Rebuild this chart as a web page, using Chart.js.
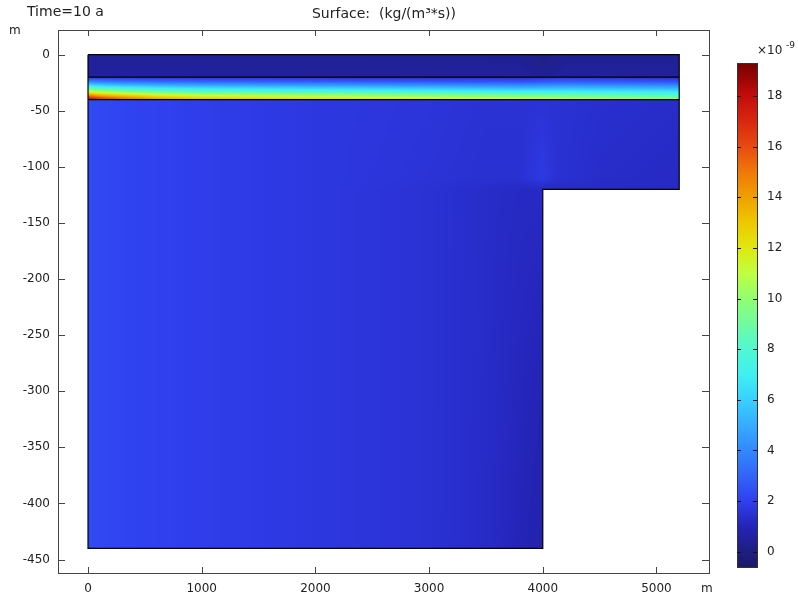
<!DOCTYPE html>
<html lang="en">
<head>
    <meta charset="UTF-8">
    <title>Surface: (kg/(m3*s))</title>
    <script src="https://cdn.jsdelivr.net/npm/chart.js"></script>
    <style>
        body { margin: 0; background: #fff; }
        .wrap { position: relative; width: 798px; height: 598px; }
        #mainChart { position: absolute; left: 0; top: 0; }
        #barChart { position: absolute; left: 720px; top: 0; }
    </style>
</head>
<body>
<div class="wrap">
    <canvas id="mainChart" width="798" height="598"></canvas>
    <canvas id="barChart" width="78" height="598"></canvas>
</div>

<script>
// ---- data (values in 1e-9 kg/(m^3*s)) ----
const xTicks = [0, 1000, 2000, 3000, 4000, 5000];
const yTicks = [-450, -400, -350, -300, -250, -200, -150, -100, -50, 0];
const colorTicks = [0, 2, 4, 6, 8, 10, 12, 14, 16, 18];

// domain geometry (m)
const outline = [[0, 0], [5200, 0], [5200, -120], [4000, -120], [4000, -440], [0, -440], [0, 0]];
const line20 = [[0, -20], [5200, -20]];
const line40 = [[0, -40], [5200, -40]];

// top layer 0..-20
const topX = [0, 2000, 3800, 4000, 4200, 5200];
const topY = [0, -20];
const topV = [
    [0.4, 0.4, 0.35, 0.15, 0.35, 0.35],
    [0.6, 0.5, 0.5, 0.35, 0.5, 0.5]
];

// source band -20..-40
const bandX = [0, 100, 300, 600, 1000, 2000, 3000, 3800, 4200, 5200];
const bandY = [-20, -24, -28, -32, -36, -40];
const bandV = [
    [1.6, 1.6, 1.5, 1.5, 1.4, 1.4, 1.3, 1.3, 1.6, 1.3],
    [4.0, 3.7, 3.4, 3.2, 3.0, 2.8, 2.6, 2.5, 2.8, 2.5],
    [7.0, 6.5, 6.0, 5.6, 5.3, 5.0, 4.7, 4.4, 4.6, 4.3],
    [10.5, 9.8, 9.0, 8.3, 7.8, 7.3, 6.9, 6.5, 6.5, 6.2],
    [14.5, 13.5, 12.5, 11.5, 10.8, 10.2, 9.6, 9.0, 8.8, 8.0],
    [18.5, 17.5, 16.0, 14.5, 13.5, 12.5, 12.0, 11.5, 11.0, 10.0]
];

// lower domain -40..-440
const lowX = [0, 300, 1000, 2000, 3000, 3500, 3800, 3950, 4000, 4100, 4500, 5200];
const lowY = [-40, -110, -120, -440];
const lowV = [
    [2.3, 2.1, 1.9, 1.7, 1.6, 1.5, 1.5, 1.5, 1.5, 1.5, 1.4, 1.3],
    [2.3, 2.1, 1.9, 1.7, 1.55, 1.45, 1.45, 1.7, 1.8, 1.5, 1.3, 1.2],
    [2.3, 2.1, 1.9, 1.7, 1.5, 1.3, 1.2, 1.2, 1.2, 1.2, 1.2, 1.2],
    [2.3, 2.1, 1.9, 1.7, 1.5, 1.25, 1.0, 0.8, 0.7, 0.7, 0.7, 0.7]
];

const colorMin = -0.6;
const colorMax = 19.3;

// rainbow colour table
const cmapVals = [-0.6, 0, 1, 2, 4, 6, 7, 8, 10, 11, 12, 13, 14, 15, 16, 17, 18, 19.3];
const cmapCols = ['#1a1a6a', '#1e1e80', '#2424b8', '#3040f0', '#3388ff', '#38d0ff', '#40f0f0', '#50f8d0',
    '#90ff70', '#c0ff40', '#e0e810', '#eec800', '#f0a000', '#f07808', '#e84a10', '#d82810', '#c40c0c', '#760000'];

const FONT = "'DejaVu Sans', sans-serif";

function hexRgb(h) {
    return [parseInt(h.substr(1, 2), 16), parseInt(h.substr(3, 2), 16), parseInt(h.substr(5, 2), 16)];
}
const cmapRgb = cmapCols.map(hexRgb);

function colorFor(v) {
    if (v <= cmapVals[0]) return cmapRgb[0];
    for (let i = 1; i < cmapVals.length; i++) {
        if (v <= cmapVals[i]) {
            const t = (v - cmapVals[i - 1]) / (cmapVals[i] - cmapVals[i - 1]);
            const a = cmapRgb[i - 1], b = cmapRgb[i];
            return [a[0] + (b[0] - a[0]) * t, a[1] + (b[1] - a[1]) * t, a[2] + (b[2] - a[2]) * t];
        }
    }
    return cmapRgb[cmapRgb.length - 1];
}

// find segment in ascending or descending axis
function locate(arr, v) {
    const asc = arr[arr.length - 1] > arr[0];
    for (let i = 0; i < arr.length - 1; i++) {
        const lo = arr[i], hi = arr[i + 1];
        if ((asc && v <= hi) || (!asc && v >= hi)) {
            let t = (v - lo) / (hi - lo);
            return [i, Math.max(0, Math.min(1, t))];
        }
    }
    return [arr.length - 2, 1];
}

function sample(gx, gy, gv, x, y) {
    const [i, tx] = locate(gx, x);
    const [j, ty] = locate(gy, y);
    const a = gv[j][i] * (1 - tx) + gv[j][i + 1] * tx;
    const b = gv[j + 1][i] * (1 - tx) + gv[j + 1][i + 1] * tx;
    return a * (1 - ty) + b * ty;
}

function paintGrid(chart, gx, gy, gv, clipPts) {
    const xs = chart.scales.x, ys = chart.scales.y;
    const ctx = chart.ctx;
    const x0 = Math.floor(xs.getPixelForValue(gx[0]));
    const x1 = Math.ceil(xs.getPixelForValue(gx[gx.length - 1]));
    const y0 = Math.floor(ys.getPixelForValue(gy[0]));
    const y1 = Math.ceil(ys.getPixelForValue(gy[gy.length - 1]));
    const w = x1 - x0, h = y1 - y0;
    const off = document.createElement('canvas');
    off.width = w; off.height = h;
    const octx = off.getContext('2d');
    const img = octx.createImageData(w, h);
    for (let py = 0; py < h; py++) {
        const dy = ys.getValueForPixel(y0 + py + 0.5);
        for (let px = 0; px < w; px++) {
            const dx = xs.getValueForPixel(x0 + px + 0.5);
            const c = colorFor(sample(gx, gy, gv, dx, dy));
            const k = (py * w + px) * 4;
            img.data[k] = c[0]; img.data[k + 1] = c[1]; img.data[k + 2] = c[2]; img.data[k + 3] = 255;
        }
    }
    octx.putImageData(img, 0, 0);
    ctx.save();
    ctx.beginPath();
    clipPts.forEach((p, n) => {
        const px = xs.getPixelForValue(p[0]), py = ys.getPixelForValue(p[1]);
        if (n === 0) ctx.moveTo(px, py); else ctx.lineTo(px, py);
    });
    ctx.closePath();
    ctx.clip();
    ctx.drawImage(off, x0, y0);
    ctx.restore();
}

const surfacePlugin = {
    id: 'surface',
    beforeDatasetsDraw(chart) {
        paintGrid(chart, topX, topY, topV, [[0, 0], [5200, 0], [5200, -20], [0, -20]]);
        paintGrid(chart, bandX, bandY, bandV, [[0, -20], [5200, -20], [5200, -40], [0, -40]]);
        paintGrid(chart, lowX, lowY, lowV, [[0, -40], [5200, -40], [5200, -120], [4000, -120], [4000, -440], [0, -440]]);
    },
    afterDraw(chart) {
        const ctx = chart.ctx, a = chart.chartArea;
        const xs = chart.scales.x, ys = chart.scales.y;
        ctx.save();
        ctx.strokeStyle = '#444';
        ctx.lineWidth = 1;
        ctx.strokeRect(Math.round(a.left) + 0.5, Math.round(a.top) + 0.5, Math.round(a.right - a.left), Math.round(a.bottom - a.top));
        ctx.beginPath();
        xTicks.forEach(v => {
            const px = Math.round(xs.getPixelForValue(v)) + 0.5;
            ctx.moveTo(px, a.top); ctx.lineTo(px, a.top + 6);
            ctx.moveTo(px, a.bottom); ctx.lineTo(px, a.bottom - 6);
        });
        yTicks.forEach(v => {
            const py = Math.round(ys.getPixelForValue(v)) + 0.5;
            ctx.moveTo(a.left, py); ctx.lineTo(a.left + 7, py);
            ctx.moveTo(a.right, py); ctx.lineTo(a.right - 7, py);
        });
        ctx.stroke();
        ctx.fillStyle = '#222';
        ctx.font = '14px ' + FONT;
        ctx.textBaseline = 'middle';
        ctx.textAlign = 'left';
        ctx.fillText('Time=10 a', 27, 12);
        ctx.textAlign = 'center';
        ctx.fillText('Surface:  (kg/(m\u00B3*s))', 384, 14);
        ctx.font = '12px ' + FONT;
        ctx.textAlign = 'left';
        ctx.fillText('m', 9, 31);
        ctx.fillText('m', 701, 589);
        ctx.restore();
    }
};

const lineStyle = { borderColor: '#000', borderWidth: 1.2, pointRadius: 0, showLine: true, tension: 0, fill: false };

new Chart(document.getElementById('mainChart'), {
    type: 'scatter',
    data: {
        datasets: [
            Object.assign({ data: outline.map(p => ({ x: p[0], y: p[1] })) }, lineStyle),
            Object.assign({ data: line20.map(p => ({ x: p[0], y: p[1] })) }, lineStyle),
            Object.assign({ data: line40.map(p => ({ x: p[0], y: p[1] })) }, lineStyle)
        ]
    },
    options: {
        responsive: false,
        animation: false,
        layout: { padding: { top: 30, right: 89, left: 0, bottom: 0 } },
        plugins: { legend: { display: false }, tooltip: { enabled: false } },
        scales: {
            x: {
                type: 'linear', min: -264, max: 5462,
                afterFit: s => { s.height = 25; },
                afterBuildTicks: s => { s.ticks = xTicks.map(v => ({ value: v })); },
                grid: { display: false, drawTicks: false },
                border: { display: false },
                ticks: {
                    autoSkip: false, maxRotation: 0, callback: v => String(v),
                    padding: 9, color: '#222', font: { family: FONT, size: 12 }
                }
            },
            y: {
                type: 'linear', min: -462, max: 22,
                afterFit: s => { s.width = 58; },
                afterBuildTicks: s => { s.ticks = yTicks.map(v => ({ value: v })); },
                grid: { display: false, drawTicks: false },
                border: { display: false },
                ticks: {
                    autoSkip: false, callback: v => String(v),
                    padding: 8, color: '#222', font: { family: FONT, size: 12 }
                }
            }
        }
    },
    plugins: [surfacePlugin]
});

// ---- colour legend ----
const barFrame = {
    id: 'barFrame',
    afterDraw(chart) {
        const ctx = chart.ctx, a = chart.chartArea, ys = chart.scales.y;
        ctx.save();
        ctx.strokeStyle = '#333';
        ctx.lineWidth = 1;
        ctx.strokeRect(Math.round(a.left) + 0.5, Math.round(a.top) + 0.5, Math.round(a.right - a.left), Math.round(a.bottom - a.top));
        ctx.strokeStyle = '#111';
        ctx.beginPath();
        colorTicks.forEach(v => {
            const py = Math.round(ys.getPixelForValue(v)) + 0.5;
            ctx.moveTo(a.left, py); ctx.lineTo(a.left + 4, py);
            ctx.moveTo(a.right, py); ctx.lineTo(a.right - 4, py);
        });
        ctx.stroke();
        ctx.fillStyle = '#222';
        ctx.font = '12px ' + FONT;
        ctx.textBaseline = 'middle';
        ctx.textAlign = 'left';
        ctx.fillText('\u00D710', 37, 51);
        ctx.font = '9px ' + FONT;
        ctx.fillText('-9', 66, 46);
        ctx.restore();
    }
};

new Chart(document.getElementById('barChart'), {
    type: 'bar',
    data: {
        labels: [''],
        datasets: [{
            data: [[colorMin, colorMax]],
            barPercentage: 1,
            categoryPercentage: 1,
            borderSkipped: false,
            backgroundColor: (c) => {
                const area = c.chart.chartArea;
                if (!area) return '#1e1e80';
                const ys = c.chart.scales.y;
                const g = c.chart.ctx.createLinearGradient(0, ys.getPixelForValue(colorMin), 0, ys.getPixelForValue(colorMax));
                cmapVals.forEach((v, i) => {
                    g.addColorStop((v - colorMin) / (colorMax - colorMin), cmapCols[i]);
                });
                return g;
            }
        }]
    },
    options: {
        responsive: false,
        animation: false,
        layout: { padding: { top: 63, left: 17, right: 0, bottom: 31 } },
        plugins: { legend: { display: false }, tooltip: { enabled: false } },
        scales: {
            x: { display: false },
            y: {
                position: 'right', min: colorMin, max: colorMax,
                afterFit: s => { s.width = 41; },
                afterBuildTicks: s => { s.ticks = colorTicks.map(v => ({ value: v })); },
                grid: { display: false, drawTicks: false },
                border: { display: false },
                ticks: {
                    autoSkip: false,
                    padding: 10, color: '#222', font: { family: FONT, size: 12 }
                }
            }
        }
    },
    plugins: [barFrame]
});
</script>
</body>
</html>
